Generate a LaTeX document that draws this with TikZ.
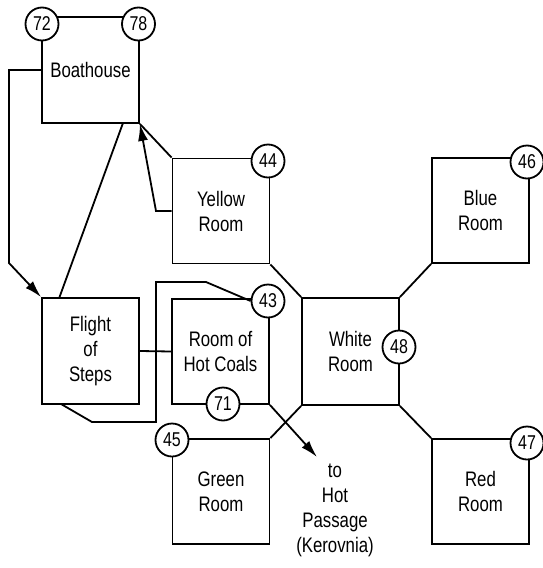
\documentclass[tikz,border=0pt]{standalone}
\usepackage{fontspec}
\setmainfont{Liberation Sans}[FakeStretch=0.8]
\usetikzlibrary{arrows.meta}
\tikzset{
  room/.style={draw, line width=1.8pt, minimum width=97pt, minimum height=105pt, inner sep=0pt, align=center, font=\fontsize{21}{25}\selectfont},
  num/.style={draw, circle, fill=white, line width=1.8pt, minimum size=33pt, inner sep=0pt, font=\fontsize{20}{24}\selectfont},
  link/.style={line width=1.8pt},
  arr/.style={line width=1.8pt, -{Latex[length=17pt,width=10pt]}},
  lbl/.style={align=center, font=\fontsize{21}{25}\selectfont}
}
\begin{document}
\begin{tikzpicture}[x=1pt,y=-1pt]
\useasboundingbox (0,0) rectangle (542,568);
% rooms
\node[room, minimum height=106pt] (boat) at (90.5,70) {Boathouse};
\node[room] (yellow) at (221,211) {Yellow\\Room};
\node[room, minimum height=106pt] (flight) at (90.5,351) {Flight\\of\\Steps};
\node[room] (coals) at (220.5,351.5) {Room of\\Hot Coals};
\node[room, minimum height=107pt] (white) at (350.5,351.5) {White\\Room};
\node[room] (blue) at (480.5,210.5) {Blue\\Room};
\node[room] (red) at (480.5,491.5) {Red\\Room};
\node[room] (green) at (221,491.5) {Green\\Room};
\node[lbl] (hot) at (335,510.5) {to\\Hot\\Passage\\(Kerovnia)};
% bend points
\coordinate (b1) at (9,70);
\coordinate (b2) at (9,263);
\coordinate (y1) at (156,211);
\coordinate (f1) at (59,298.5);
\coordinate (f2) at (61,404);
\coordinate (f3) at (92,422);
\coordinate (f4) at (156,422);
\coordinate (f5) at (156,282);
\coordinate (f6) at (206,282);
% connectors
\draw[arr] (boat.west) -- (b1) -- (b2) -- (flight.north west);
\draw[link] (f1) -- (123,123);
\draw[link] (boat.south east) -- (yellow.north west);
\draw[arr] (yellow.west) -- (y1) -- (boat.south east);
\draw[link] (yellow.south east) -- (white.north west);
\draw[link] (white.north east) -- (blue.south west);
\draw[link] (white.south east) -- (red.north west);
\draw[link] (green.north east) -- (white.south west);
\draw[arr] (coals.south east) -- (317,457);
\draw[link] (flight.east) -- (coals.west);
% numbered circles
\node[num] (n72) at (42,24) {72};
\node[num] (n78) at (138.5,24) {78};
\node[num] (n44) at (268,161) {44};
\node[num] (n43) at (268,301) {43};
\node[num] (n71) at (223,404) {71};
\node[num] (n48) at (399,347) {48};
\node[num] (n46) at (527,162) {46};
\node[num] (n47) at (527,443) {47};
\node[num] (n45) at (172,440) {45};
\draw[link] (f2) -- (f3) -- (f4) -- (f5) -- (f6) -- (n43.west);
\end{tikzpicture}
\end{document}
